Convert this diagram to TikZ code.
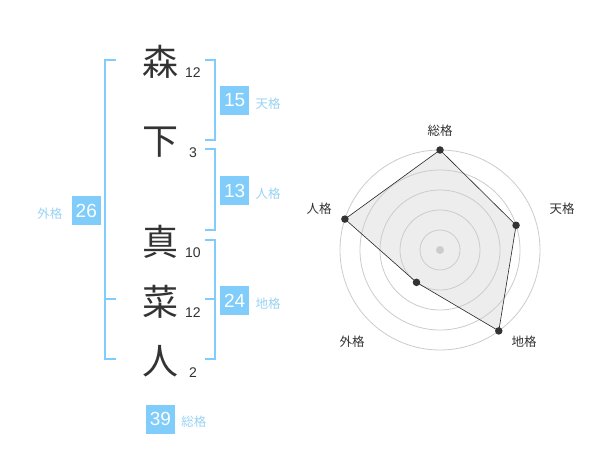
\documentclass[tikz,border=0pt]{standalone}
\usepackage{fontspec}
\setmainfont{Liberation Sans}
\newfontfamily\jpfont{Noto Sans CJK JP}
\usetikzlibrary{positioning}
\definecolor{kakublue}{HTML}{80CCFA}
\definecolor{kakulabel}{HTML}{99D3F5}
\definecolor{inkgray}{HTML}{333333}

\begin{document}
\begin{tikzpicture}[x=1pt, y=-1pt,
  kanji/.style={font=\jpfont\fontsize{36}{36}\selectfont, text=inkgray, inner sep=0},
  strokes/.style={font=\fontsize{14}{14}\selectfont, text=inkgray, inner sep=0},
  score/.style={fill=kakublue, text=white, minimum size=29pt, inner sep=0, font=\fontsize{19}{19}\selectfont},
  kaku/.style={font=\jpfont\fontsize{12.5}{12.5}\selectfont, text=kakulabel, inner sep=0},
  bracket/.style={draw=kakublue, line width=2pt},
  ring/.style={draw=black!20, line width=0.8pt},
  axislabel/.style={font=\jpfont\fontsize{12.5}{12.5}\selectfont, text=inkgray, inner sep=0},
  dot/.style={circle, fill=inkgray, inner sep=0, minimum size=7.5pt},
]
\useasboundingbox[fill=white] (0,0) rectangle (600,470);

% name characters and stroke counts
\node[kanji] (sei1) at (160, 62) {森};
\node[kanji] (sei2) at (160, 142) {下};
\node[kanji] (mei1) at (160, 242) {真};
\node[kanji] (mei2) at (160, 302) {菜};
\node[kanji] (mei3) at (160, 361) {人};
\node[strokes] (n1) at (193, 73) {12};
\node[strokes] (n2) at (193, 153) {3};
\node[strokes] (n3) at (193, 253) {10};
\node[strokes] (n4) at (193, 313) {12};
\node[strokes] (n5) at (193, 373) {2};

% brackets
\draw[bracket] (116, 60) -- (105, 60) -- (105, 359) -- (116, 359);
\draw[bracket] (105, 299) -- (116, 299);
\draw[bracket] (205, 60) -- (215, 60) -- (215, 140) -- (205, 140);
\draw[bracket] (205, 149) -- (215, 149) -- (215, 230) -- (205, 230);
\draw[bracket] (205, 240) -- (215, 240) -- (215, 359) -- (205, 359);
\draw[bracket] (205, 299) -- (215, 299);

% scores
\node[score] (tenkaku) at (234.7, 100.5) {15};
\node[kaku, right=6pt of tenkaku, yshift=-3pt] (tenlbl) {天格};
\node[score] (jinkaku) at (234.7, 190.5) {13};
\node[kaku, right=6pt of jinkaku, yshift=-3pt] (jinlbl) {人格};
\node[score] (chikaku) at (234.7, 300.5) {24};
\node[kaku, right=6pt of chikaku, yshift=-3pt] (chilbl) {地格};
\node[score] (gaikaku) at (86.3, 210.5) {26};
\node[kaku, left=9pt of gaikaku, yshift=-3pt] (gailbl) {外格};
\node[score] (soukaku) at (160.5, 419) {39};
\node[kaku, right=6pt of soukaku, yshift=-3pt] (soulbl) {総格};

% radar chart
\coordinate (radar) at (440, 250);
\begin{scope}[shift={(radar)}]
  \coordinate (psou) at (90:100pt);
  \coordinate (pten) at (18:80pt);
  \coordinate (pchi) at (-54:100pt);
  \coordinate (pgai) at (-126:40pt);
  \coordinate (pjin) at (162:100pt);
  \fill[black!7] (psou) -- (pten) -- (pchi) -- (pgai) -- (pjin) -- cycle;
  \foreach \r in {20,40,...,100}
    \draw[ring] (0,0) circle (\r pt);
  \fill[black!20] (0,0) circle (4pt);
  \draw[line width=0.6pt, black!85] (psou) -- (pten) -- (pchi) -- (pgai) -- (pjin) -- cycle;
  \foreach \p in {psou, pten, pchi, pgai, pjin}
    \node[dot] at (\p) {};
\end{scope}
\node[axislabel] (lsou) at (440, 131) {総格};
\node[axislabel] (lten) at (562, 209) {天格};
\node[axislabel] (lchi) at (524, 342) {地格};
\node[axislabel] (lgai) at (352, 342) {外格};
\node[axislabel] (ljin) at (319, 209) {人格};
\end{tikzpicture}
\end{document}
